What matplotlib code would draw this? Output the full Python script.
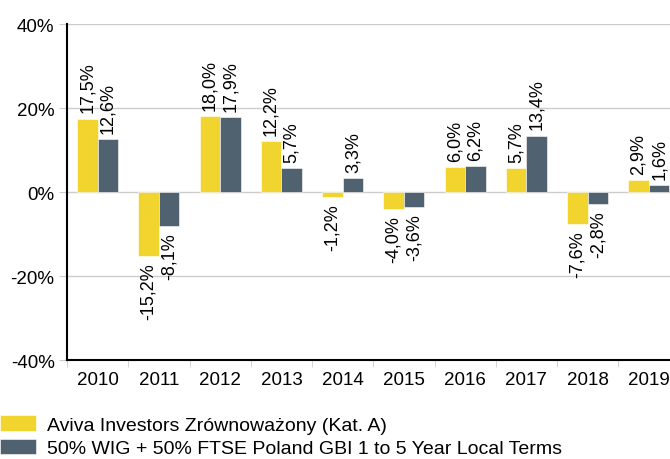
import matplotlib
matplotlib.use("Agg")
import matplotlib.pyplot as plt
import numpy as np

years = ["2010", "2011", "2012", "2013", "2014", "2015", "2016", "2017", "2018", "2019"]
fund = [17.5, -15.2, 18.0, 12.2, -1.2, -4.0, 6.0, 5.7, -7.6, 2.9]
bench = [12.6, -8.1, 17.9, 5.7, 3.3, -3.6, 6.2, 13.4, -2.8, 1.6]
series_names = ["Aviva Investors Zrównoważony (Kat. A)",
                "50% WIG + 50% FTSE Poland GBI 1 to 5 Year Local Terms"]
colors = ["#F1D52E", "#506270"]

plt.rcParams['font.family'] = ['Liberation Sans', 'DejaVu Sans']

fig = plt.figure(figsize=(6.7, 4.6), dpi=100)
ax = fig.add_axes([67/670, 99/460, 612.5/670, 336/460])

x = np.arange(len(years))
w = 0.335
b1 = ax.bar(x - w/2, fund, w, color=colors[0], edgecolor='white', linewidth=0.4, label=series_names[0], zorder=3)
b2 = ax.bar(x + w/2, bench, w, color=colors[1], edgecolor='white', linewidth=0.4, label=series_names[1], zorder=3)

def fmt(v):
    return f"{v:.1f}%".replace('.', ',')

for bars, vals in ((b1, fund), (b2, bench)):
    for r, v in zip(bars, vals):
        cx = r.get_x() + r.get_width()/2
        if v >= 0:
            ax.annotate(fmt(v), (cx, v), xytext=(0, 4.5), textcoords='offset points',
                        rotation=90, ha='center', va='bottom', fontsize=13, zorder=4)
        else:
            ax.annotate(fmt(v), (cx, v), xytext=(0, -4.5), textcoords='offset points',
                        rotation=90, ha='center', va='top', fontsize=13, zorder=4)

ax.set_xlim(-0.5, len(years) - 0.5)
ax.set_ylim(-40, 40)
ax.set_yticks([-40, -20, 0, 20, 40])
ax.set_yticklabels([f"{t}%" for t in [-40, -20, 0, 20, 40]])
ax.yaxis.grid(True, color='#cccccc', linewidth=1, zorder=0)
ax.set_axisbelow(True)
ax.set_xticks(x)
ax.set_xticklabels(years)
ax.set_xticks(np.arange(len(years) + 1) - 0.5, minor=True)
ax.tick_params(axis='x', which='major', length=0, labelsize=13.5, pad=8)
ax.tick_params(axis='x', which='minor', length=5, color='#cccccc')
ax.tick_params(axis='y', length=6, color='#cccccc', labelsize=13.5, pad=3)
for s in ['top', 'right']:
    ax.spines[s].set_visible(False)
ax.spines['left'].set_linewidth(1.5)
ax.spines['bottom'].set_linewidth(1.5)

fig.legend(handles=[b1, b2], labels=series_names, loc='lower left',
           bbox_to_anchor=(0.0, 0.004), frameon=False, fontsize=14,
           handlelength=1.85, handleheight=0.85, handletextpad=0.55,
           labelspacing=0.25, borderaxespad=0, borderpad=0)

fig.savefig("out.png", dpi=100)
